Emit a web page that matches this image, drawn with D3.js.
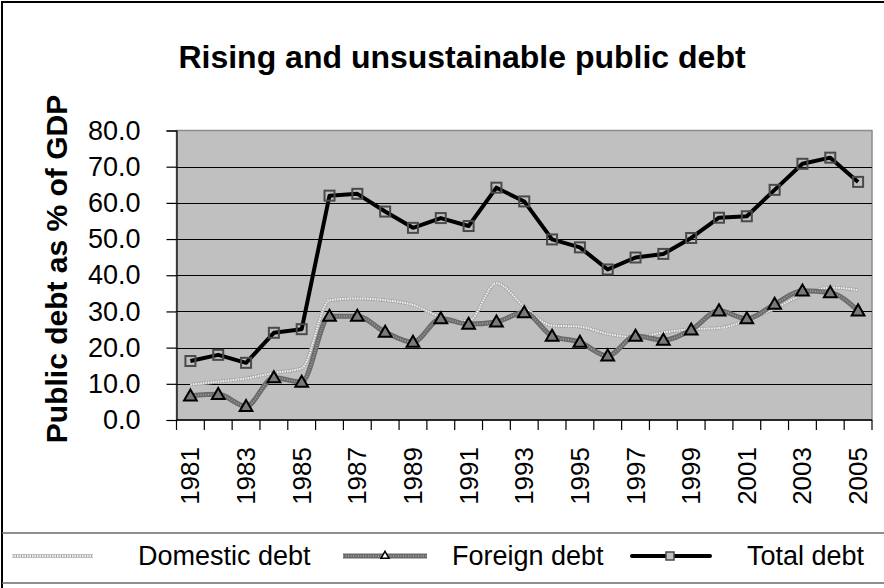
<!DOCTYPE html>
<html>
<head>
<meta charset="utf-8">
<script src="https://cdn.jsdelivr.net/npm/d3@7"></script>
<style>
    body { margin: 0; background: #fff; }
    svg { display: block; font-family: "Liberation Sans", Arial, sans-serif; }
</style>
</head>
<body>
<div id="chart-container"></div>
<script>
const years = d3.range(1981, 2006).map(String);
const yTicks = [0, 10, 20, 30, 40, 50, 60, 70, 80];
const domesticDebt = [9.8, 10.6, 11.5, 13.0, 14.3, 33.1, 33.6, 33.1, 31.8, 28.5, 27.4, 37.8, 31.3, 26.1, 25.8, 23.8, 22.9, 24.2, 25.1, 25.4, 27.6, 30.8, 34.6, 36.6, 35.9];
const foreignDebt = [6.7, 7.1, 3.8, 11.7, 10.5, 28.7, 28.7, 24.3, 21.5, 28.0, 26.5, 27.1, 29.7, 23.2, 21.5, 17.7, 23.2, 22.1, 24.9, 30.2, 28.0, 32.0, 35.7, 35.2, 30.2];
const totalDebt = [16.3, 18.0, 15.8, 24.1, 25.1, 62.0, 62.5, 57.6, 53.1, 55.8, 53.6, 64.2, 60.4, 49.9, 47.7, 41.6, 44.9, 45.9, 50.3, 55.9, 56.3, 63.6, 70.8, 72.5, 65.8];
const seriesNames = ["Domestic debt", "Foreign debt", "Total debt"];

loadLineChart();

function loadLineChart() {
    const width = 884;
    const height = 588;
    const plot = { left: 176.5, right: 872, top: 130.5, bottom: 420 };

    const svg = d3
        .select("#chart-container")
        .append("svg")
        .attr("width", width)
        .attr("height", height);

    svg.append("rect").attr("width", width).attr("height", height).attr("fill", "#fff");

    //outer border
    svg.append("path")
        .attr("d", `M2,${height} V2 H${width}`)
        .attr("fill", "none")
        .attr("stroke", "#000")
        .attr("stroke-width", 2);

    //title
    svg.append("text")
        .attr("x", 462)
        .attr("y", 68)
        .attr("text-anchor", "middle")
        .attr("font-size", 32)
        .attr("font-weight", "bold")
        .text("Rising and unsustainable public debt");

    const x = d3.scaleBand().domain(years).range([plot.left, plot.right]);
    const y = d3.scaleLinear().domain([0, 80]).range([plot.bottom, plot.top]);

    //plot area
    svg.append("rect")
        .attr("x", plot.left)
        .attr("y", plot.top)
        .attr("width", plot.right - plot.left)
        .attr("height", plot.bottom - plot.top)
        .attr("fill", "#c0c0c0")
        .attr("stroke", "#8c8c8c")
        .attr("stroke-width", 1.5);

    //gridlines
    svg.append("g")
        .selectAll("line")
        .data(yTicks.filter(d => d > 0 && d < 80))
        .join("line")
        .attr("x1", plot.left)
        .attr("x2", plot.right)
        .attr("y1", d => Math.round(y(d)) + 0.5)
        .attr("y2", d => Math.round(y(d)) + 0.5)
        .attr("stroke", "#000");

    //y axis
    const yAxis = d3.axisLeft(y)
        .tickValues(yTicks)
        .tickFormat(d3.format(".1f"))
        .tickSize(10)
        .tickPadding(26);

    svg.append("g")
        .attr("transform", `translate(${plot.left}, 0)`)
        .call(yAxis)
        .call(g => g.selectAll("text").attr("font-size", 27).attr("font-family", null).attr("fill", "#000"))
        .call(g => g.selectAll("line, path").attr("stroke", "#000").attr("stroke-width", 1.2));

    //x axis
    const boundaries = years.map(d => x(d)).concat([plot.right]);
    const xAxisGroup = svg.append("g");

    xAxisGroup.append("line")
        .attr("x1", plot.left)
        .attr("x2", plot.right)
        .attr("y1", plot.bottom)
        .attr("y2", plot.bottom)
        .attr("stroke", "#000")
        .attr("stroke-width", 1.5);

    xAxisGroup.selectAll(".tick")
        .data(boundaries)
        .join("line")
        .attr("x1", d => d)
        .attr("x2", d => d)
        .attr("y1", plot.bottom)
        .attr("y2", plot.bottom + 10)
        .attr("stroke", "#000")
        .attr("stroke-width", 1.2);

    xAxisGroup.selectAll("text")
        .data(years.filter((d, i) => i % 2 === 0))
        .join("text")
        .attr("transform", d => `translate(${x(d) + x.bandwidth() / 2 + 9}, 447) rotate(-90)`)
        .attr("text-anchor", "end")
        .attr("font-size", 26)
        .text(d => d);

    //y axis title
    svg.append("text")
        .attr("transform", `translate(67, 269) rotate(-90)`)
        .attr("text-anchor", "middle")
        .attr("font-size", 30)
        .attr("font-weight", "bold")
        .text("Public debt as % of GDP");

    //lines
    const cx = i => x(years[i]) + x.bandwidth() / 2;
    const smoothLine = d3.line().x((d, i) => cx(i)).y(d => y(d)).curve(d3.curveMonotoneX);
    const straightLine = d3.line().x((d, i) => cx(i)).y(d => y(d));

    const lines = svg.append("g");

    lines.append("path")
        .attr("d", smoothLine(domesticDebt))
        .attr("fill", "none")
        .attr("stroke", "#a8a8a8")
        .attr("stroke-width", 3.5);
    lines.append("path")
        .attr("d", smoothLine(domesticDebt))
        .attr("fill", "none")
        .attr("stroke", "#f2f2f2")
        .attr("stroke-width", 2)
        .attr("stroke-dasharray", "1.5 1");

    lines.append("path")
        .attr("d", smoothLine(foreignDebt))
        .attr("fill", "none")
        .attr("stroke", "#6a6a6a")
        .attr("stroke-width", 5);
    lines.append("path")
        .attr("d", smoothLine(foreignDebt))
        .attr("fill", "none")
        .attr("stroke", "#9a9a9a")
        .attr("stroke-width", 2)
        .attr("stroke-dasharray", "1 1.5");

    lines.append("path")
        .attr("d", straightLine(totalDebt))
        .attr("fill", "none")
        .attr("stroke", "#000")
        .attr("stroke-width", 4)
        .attr("stroke-linejoin", "round");

    //markers
    const triangle = d3.symbol().type(d3.symbolTriangle).size(70);

    lines.append("g")
        .selectAll("path")
        .data(foreignDebt)
        .join("path")
        .attr("d", triangle)
        .attr("transform", (d, i) => `translate(${cx(i)}, ${y(d) + 1})`)
        .attr("fill", "#7a7a7a")
        .attr("stroke", "#000")
        .attr("stroke-width", 2);

    lines.append("g")
        .selectAll("rect")
        .data(totalDebt)
        .join("rect")
        .attr("x", (d, i) => cx(i) - 5)
        .attr("y", d => y(d) - 5)
        .attr("width", 10)
        .attr("height", 10)
        .attr("fill", "none")
        .attr("stroke", "#4a4a4a")
        .attr("stroke-width", 2);

    //legend
    const legend = svg.append("g");
    const legendY = 556;

    legend.append("line")
        .attr("x1", 2).attr("x2", width)
        .attr("y1", 533).attr("y2", 533)
        .attr("stroke", "#6a6a6a").attr("stroke-width", 1.5);
    legend.append("line")
        .attr("x1", 2).attr("x2", width)
        .attr("y1", 583).attr("y2", 583)
        .attr("stroke", "#6a6a6a").attr("stroke-width", 1.5);

    //domestic swatch
    legend.append("line")
        .attr("x1", 12).attr("x2", 93)
        .attr("y1", legendY).attr("y2", legendY)
        .attr("stroke", "#a8a8a8").attr("stroke-width", 3.5);
    legend.append("line")
        .attr("x1", 12).attr("x2", 93)
        .attr("y1", legendY).attr("y2", legendY)
        .attr("stroke", "#f2f2f2").attr("stroke-width", 2)
        .attr("stroke-dasharray", "1.5 1");

    //foreign swatch
    legend.append("line")
        .attr("x1", 343).attr("x2", 427)
        .attr("y1", legendY).attr("y2", legendY)
        .attr("stroke", "#6a6a6a").attr("stroke-width", 5);
    legend.append("line")
        .attr("x1", 343).attr("x2", 427)
        .attr("y1", legendY).attr("y2", legendY)
        .attr("stroke", "#9a9a9a").attr("stroke-width", 2)
        .attr("stroke-dasharray", "1 1.5");
    legend.append("path")
        .attr("d", d3.symbol().type(d3.symbolTriangle).size(28))
        .attr("transform", `translate(385, ${legendY})`)
        .attr("fill", "#fff")
        .attr("stroke", "#000")
        .attr("stroke-width", 1.5);

    //total swatch
    legend.append("line")
        .attr("x1", 632).attr("x2", 710)
        .attr("y1", legendY).attr("y2", legendY)
        .attr("stroke", "#000").attr("stroke-width", 4)
        .attr("stroke-linecap", "round");
    legend.append("rect")
        .attr("x", 666).attr("y", legendY - 4)
        .attr("width", 8).attr("height", 8)
        .attr("fill", "#c0c0c0")
        .attr("stroke", "#4a4a4a").attr("stroke-width", 1.5);

    legend.selectAll("text")
        .data(seriesNames)
        .join("text")
        .attr("x", (d, i) => [138, 452, 747][i])
        .attr("y", legendY + 9)
        .attr("font-size", 27)
        .text(d => d);
}
</script>
</body>
</html>
